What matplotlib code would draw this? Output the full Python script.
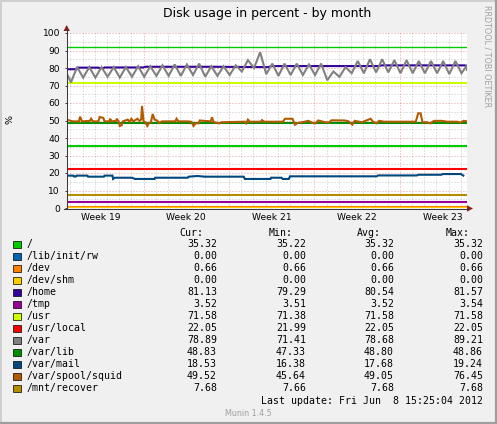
#!/usr/bin/env python3
import matplotlib

matplotlib.use("Agg")
import matplotlib.pyplot as plt
from matplotlib.lines import Line2D
from matplotlib.patches import Polygon, Rectangle

# munin df graph, month view (x in days from left edge of the graph)
TITLE = "Disk usage in percent - by month"
WEEK_LABELS = ["Week 19", "Week 20", "Week 21", "Week 22", "Week 23"]
WEEK_CENTERS = [2.8, 9.8, 16.8, 23.8, 30.8]
WEEK_BOUNDS = [6.3, 13.3, 20.3, 27.3]
X_END = 32.8

NAMES = ["/", "/lib/init/rw", "/dev", "/dev/shm", "/home", "/tmp", "/usr",
         "/usr/local", "/var", "/var/lib", "/var/mail", "/var/spool/squid", "/mnt/recover"]
COLORS = ["#00CC00", "#0066B3", "#FF8000", "#FFCC00", "#330099", "#990099", "#CCFF00",
          "#FF0000", "#808080", "#008F00", "#00487D", "#B35A00", "#B38F00"]
CUR = ["35.32", "0.00", "0.66", "0.00", "81.13", "3.52", "71.58", "22.05", "78.89", "48.83", "18.53", "49.52", "7.68"]
MIN = ["35.22", "0.00", "0.66", "0.00", "79.29", "3.51", "71.38", "21.99", "71.41", "47.33", "16.38", "45.64", "7.66"]
AVG = ["35.32", "0.00", "0.66", "0.00", "80.54", "3.52", "71.58", "22.05", "78.68", "48.80", "17.68", "49.05", "7.68"]
MAX = ["35.32", "0.00", "0.66", "0.00", "81.57", "3.54", "71.58", "22.05", "89.21", "48.86", "19.24", "76.45", "7.68"]

WARNING = 92

# flat series (value held over the whole month)
flat_t = [0.0, X_END]
root_v = [35.3, 35.3]
initrw_v = [0.0, 0.0]
dev_v = [0.66, 0.66]
shm_v = [0.0, 0.0]
tmp_v = [3.52, 3.52]
usr_v = [71.58, 71.58]
usrlocal_v = [22.05, 22.05]
varlib_v = [48.8, 48.8]
recover_v = [7.68, 7.68]

home_t = [0.0, 0.8, 0.85, 2.6, 2.7, 3.0, 3.1, 6.3, 6.4, 12.0, 16.5, 16.8, 25.6, 25.8, 32.6, 32.8]
home_v = [79.3, 79.3, 80.2, 80.2, 79.9, 79.9, 80.3, 80.3, 80.7, 80.7, 80.5, 81.1, 81.1, 81.5, 81.5, 81.1]

# /var: one tooth per day, trough then peak
var_trough = [71.8, 74.5, 74.5, 75.0, 74.5, 75.0, 75.0, 75.5, 75.5, 75.5, 76.0, 75.0, 75.5, 76.0, 78.0, 80.0, 76.5,
              75.5, 76.0, 76.0, 76.0, 73.0, 75.0, 77.0, 77.0, 77.5, 77.5, 77.0, 77.0, 77.0, 77.0, 76.5, 77.0]
var_peak = [80.5, 80.5, 80.5, 80.5, 80.5, 81.0, 81.0, 81.5, 82.0, 82.0, 82.5, 81.0, 81.0, 81.5, 84.5, 89.0, 82.5,
            82.5, 82.5, 82.0, 82.5, 78.0, 80.5, 84.0, 85.0, 85.0, 84.5, 84.5, 84.0, 84.0, 84.0, 84.0, 82.0]

mail_t = [0.0, 0.55, 0.6, 0.75, 0.8, 1.7, 1.75, 3.05, 3.1, 3.75, 3.8, 3.95, 5.35, 5.6, 7.2, 7.25, 9.9, 10.0,
          10.7, 11.3, 14.5, 14.6, 16.7, 16.75, 17.6, 17.7, 18.2, 18.3, 25.4, 25.5, 28.7, 28.8, 30.7, 30.8, 32.3, 32.5]
mail_v = [18.5, 18.5, 18.0, 18.0, 18.5, 18.5, 17.9, 17.9, 18.5, 18.5, 16.6, 17.3, 17.3, 16.6, 16.6, 17.3, 17.3, 17.9,
          18.3, 17.9, 17.9, 16.6, 16.6, 17.3, 17.3, 16.6, 16.6, 18.1, 18.1, 18.6, 18.6, 19.0, 19.0, 19.4, 19.4, 18.5]

squid_t = [0.0, 0.5, 1.0, 1.1, 1.25, 1.9, 2.0, 2.15, 2.6, 2.7, 3.0, 3.1, 3.5, 3.55, 3.7, 4.05, 4.1, 4.25, 4.35,
           4.5, 4.6, 5.0, 5.15, 5.3, 5.45, 5.8, 5.95, 6.1, 6.17, 6.3, 6.45, 6.6, 6.75, 6.9, 7.05, 7.2, 7.4, 7.6,
           7.8, 8.9, 9.0, 9.15, 9.9, 10.2, 10.4, 10.55, 10.8, 10.9, 11.8, 11.9, 12.05, 12.5, 12.7, 14.6, 14.7,
           14.85, 15.0, 15.9, 16.0, 16.2, 17.7, 17.9, 18.5, 18.7, 18.9, 19.3, 19.8, 20.2, 20.4, 20.6, 21.2, 21.5,
           21.7, 22.8, 23.1, 23.4, 23.6, 24.2, 24.9, 25.1, 25.4, 25.6, 26.0, 28.6, 28.8, 29.0, 29.15, 29.5, 29.8,
           30.1, 30.7, 31.2, 32.0, 32.3, 32.5, 32.8]
squid_v = [50.5, 49.5, 49.5, 52.2, 49.5, 49.8, 51.0, 49.5, 49.5, 52.0, 51.5, 49.5, 49.5, 51.0, 49.5, 49.8, 51.0,
           49.5, 46.9, 47.2, 49.5, 50.5, 49.3, 51.0, 49.5, 51.0, 49.8, 50.5, 58.3, 49.5, 49.0, 46.9, 48.5, 49.0,
           53.7, 50.5, 50.0, 48.6, 49.5, 49.5, 51.0, 49.5, 49.5, 49.3, 46.9, 48.4, 48.4, 50.0, 49.5, 51.8, 49.0,
           48.4, 49.0, 49.3, 48.4, 50.5, 49.3, 49.3, 50.2, 49.3, 49.3, 51.0, 51.0, 47.6, 48.5, 49.0, 49.8, 48.5,
           48.4, 50.0, 49.0, 48.9, 50.1, 50.0, 49.5, 47.6, 49.8, 49.0, 51.0, 49.3, 48.4, 49.8, 49.3, 49.3, 54.1,
           54.1, 49.0, 49.0, 48.4, 49.8, 49.8, 49.3, 49.3, 48.8, 49.8, 49.5]

W, H = 497, 424
BACK = "#F0F0F0"


def _fx(x):
    return x / W


def _fy(y):
    return 1 - y / H


def _var_series():
    t, v = [0.0], [77.0]
    for day, (lo, hi) in enumerate(zip(var_trough, var_peak)):
        t += [day + 0.35, day + 0.85]
        v += [lo, hi]
    t.append(X_END)
    v.append(78.9)
    return t, v


def main():
    fig = plt.figure(figsize=(W / 100, H / 100), dpi=100, facecolor=BACK)
    ax = fig.add_axes([_fx(66.7), _fy(208), 400.3 / W, 175 / H])
    ax.set_facecolor("white")
    ax.set_xlim(0, X_END)
    ax.set_ylim(0, 100)
    for s in ax.spines.values():
        s.set_visible(False)

    # grid: gray dotted minor, red dotted major
    minor_kw = dict(color="#9A9A9A", alpha=0.55, lw=0.72, ls=(0, (1, 2)), zorder=1)
    major_kw = dict(color="#E06060", alpha=0.6, lw=0.72, ls=(0, (1, 2)), zorder=1)
    for k in range(33):
        d = 0.3 + k
        if any(abs(d - b) < 0.01 for b in WEEK_BOUNDS):
            continue
        ax.axvline(d, **minor_kw)
    for b in WEEK_BOUNDS:
        ax.axvline(b, **major_kw)
    for y in range(5, 100, 10):
        ax.axhline(y, **minor_kw)
    for y in range(10, 101, 10):
        ax.axhline(y, **major_kw)

    ax.axhline(WARNING, color="#00CC00", lw=1.0, zorder=2)

    series = {
        "/": (flat_t, root_v),
        "/lib/init/rw": (flat_t, initrw_v),
        "/dev": (flat_t, dev_v),
        "/dev/shm": (flat_t, shm_v),
        "/home": (home_t, home_v),
        "/tmp": (flat_t, tmp_v),
        "/usr": (flat_t, usr_v),
        "/usr/local": (flat_t, usrlocal_v),
        "/var": _var_series(),
        "/var/lib": (flat_t, varlib_v),
        "/var/mail": (mail_t, mail_v),
        "/var/spool/squid": (squid_t, squid_v),
        "/mnt/recover": (flat_t, recover_v),
    }
    for i, (name, color) in enumerate(zip(NAMES, COLORS)):
        t, v = series[name]
        ax.plot(t, v, color=color, lw=1.5, zorder=3 + i * 0.1, solid_joinstyle="miter")

    ax.set_yticks(range(0, 101, 10))
    ax.tick_params(axis="y", length=1.5, width=0.72, color="#404040", pad=3.3, labelsize=6.6)
    ax.set_xticks(WEEK_CENTERS)
    ax.set_xticklabels(WEEK_LABELS)
    ax.tick_params(axis="x", length=0, pad=3.5, labelsize=6.6)

    # axes with arrows
    axis_c = "#3A3A3A"
    fig.add_artist(Line2D([_fx(66.7), _fx(66.7)], [_fy(208.5), _fy(29)], color=axis_c, lw=0.75))
    fig.add_artist(Line2D([_fx(63.5), _fx(468)], [_fy(208.5), _fy(208.5)], color=axis_c, lw=0.75))
    arrow_c = "#8B1E1E"
    fig.add_artist(Polygon([[_fx(63.5), _fy(31)], [_fx(69.9), _fy(31)], [_fx(66.7), _fy(25)]],
                           closed=True, color=arrow_c, lw=0))
    fig.add_artist(Polygon([[_fx(467), _fy(205.3)], [_fx(467), _fy(211.7)], [_fx(473), _fy(208.5)]],
                           closed=True, color=arrow_c, lw=0))

    fig.text(_fx(267), _fy(13.5), TITLE, ha="center", va="center", fontsize=9, color="#000000")
    fig.text(_fx(10), _fy(119), "%", ha="center", va="center", rotation=90, fontsize=6.8)
    fig.text(_fx(487.5), _fy(56), "RRDTOOL / TOBI OETIKER", ha="center", va="center",
             rotation=270, fontsize=5.8, color="#A0A0A0")

    mono = dict(family="DejaVu Sans Mono", fontsize=7.1, va="center")
    for hdr, x in zip(["Cur:", "Min:", "Avg:", "Max:"], [203, 293, 381, 470]):
        fig.text(_fx(x), _fy(233.3), hdr, ha="right", **mono)
    for i, (name, color) in enumerate(zip(NAMES, COLORS)):
        y = 244.3 + 12 * i
        fig.add_artist(Rectangle((_fx(13.3), _fy(y + 3.7)), 7.4 / W, 7.4 / H, facecolor=color,
                                 edgecolor="#000000", lw=0.5))
        fig.text(_fx(26.5), _fy(y), name, ha="left", **mono)
        for col, x in zip([CUR, MIN, AVG, MAX], [217, 306, 394, 483]):
            fig.text(_fx(x), _fy(y), col[i], ha="right", **mono)
    fig.text(_fx(483), _fy(400.7), "Last update: Fri Jun  8 15:25:04 2012", ha="right", **mono)
    fig.text(_fx(248), _fy(413), "Munin 1.4.5", ha="center", va="center", fontsize=5.8, color="#A0A0A0")

    # 3d frame
    fig.add_artist(Line2D([0, 1], [_fy(0.7), _fy(0.7)], color="#CFCFCF", lw=1.4))
    fig.add_artist(Line2D([_fx(0.7), _fx(0.7)], [0, 1], color="#CFCFCF", lw=1.4))
    fig.add_artist(Line2D([0, 1], [_fy(423), _fy(423)], color="#9E9E9E", lw=1.6))
    fig.add_artist(Line2D([_fx(496), _fx(496)], [0, 1], color="#9E9E9E", lw=1.6))

    fig.savefig("out.png", dpi=100, facecolor=BACK)
    plt.close(fig)


if __name__ == "__main__":
    main()
